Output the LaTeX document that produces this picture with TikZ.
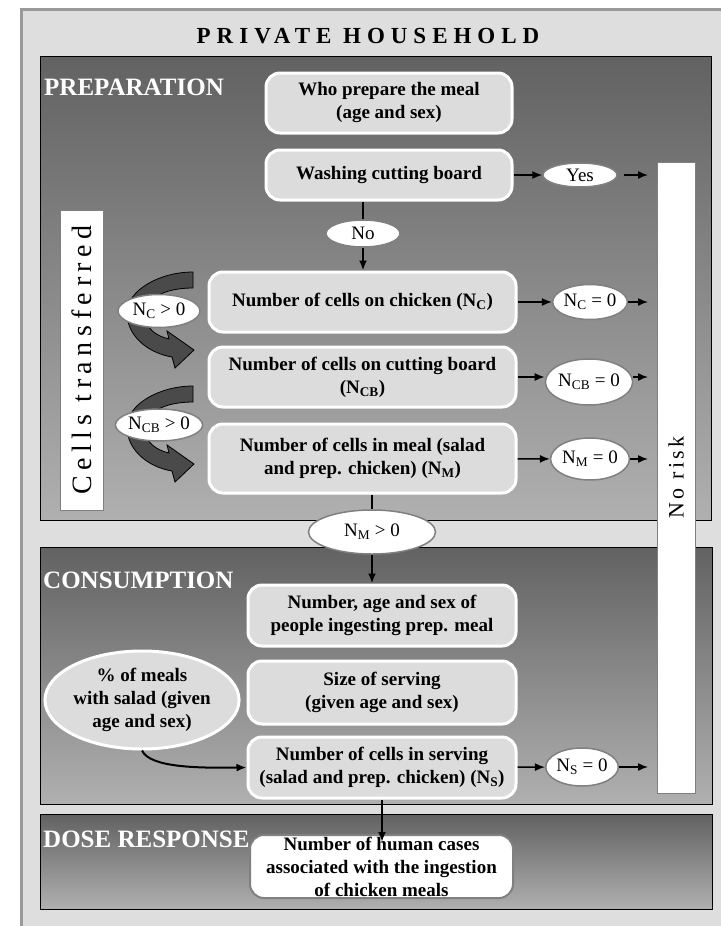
\documentclass[tikz,border=0pt]{standalone}
\usepackage{fontspec}
\setmainfont{Liberation Serif}
\usetikzlibrary{shapes.geometric,arrows.meta}
\definecolor{framegray}{HTML}{DEDEDE}
\definecolor{boxgray}{HTML}{DCDCDC}
\definecolor{paneltop}{HTML}{626262}
\definecolor{panelbot}{HTML}{B0B0B0}
\definecolor{curlgray}{HTML}{4A4A4A}
\tikzstyle{panel} = [draw=black, line width=1.2pt, top color=paneltop,
    bottom color=panelbot, anchor=north west, inner sep=0pt]
\tikzstyle{paneltitle} = [text=white, font=\bfseries\fontsize{25}{30}\selectfont,
    anchor=base west, inner sep=0pt]
\tikzstyle{stepbox} = [draw=white, line width=3pt, fill=boxgray, rounded corners=14pt,
    align=center, inner sep=0pt, font=\bfseries\fontsize{19}{23}\selectfont]
\tikzstyle{oval} = [ellipse, draw=gray, line width=1.5pt, fill=white, inner sep=0pt,
    font=\fontsize{19}{23}\selectfont]
\tikzstyle{bigoval} = [ellipse, draw=white, line width=3pt, fill=boxgray, inner sep=0pt,
    align=center, font=\bfseries\fontsize{19}{23}\selectfont]
\tikzstyle{sidebar} = [rectangle, draw=gray, line width=1pt, fill=white, inner sep=0pt,
    rotate=90]
\tikzstyle{arrow} = [-{Latex[length=10pt,width=8pt]}, line width=1.5pt]
\tikzstyle{thickline} = [line width=2.5pt]
\tikzstyle{curl} = [fill=curlgray, draw=black, line width=0.8pt]

\begin{document}
\begin{tikzpicture}[x=1pt,y=-1pt]
\useasboundingbox (0,0) rectangle (720,926);
\node[draw=gray!80, line width=3pt, fill=framegray, minimum width=730pt, minimum height=935pt,
    anchor=north west, inner sep=0pt] (frame) at (19.5,7.5) {};
\node[font=\bfseries\fontsize{23}{26}\selectfont\addfontfeature{LetterSpace=26}, anchor=base]
    (title) at (368,43) {PRIVATE HOUSEHOLD};

\node[panel, minimum width=671pt, minimum height=464pt] (prep) at (40,56) {};
\node[panel, minimum width=672pt, minimum height=257pt] (cons) at (40,547) {};
\node[panel, minimum width=672pt, minimum height=95pt] (dose) at (40,814) {};
\node[paneltitle] (preptitle) at (44,95) {PREPARATION};
\node[paneltitle] (constitle) at (43,588) {CONSUMPTION};
\node[paneltitle] (dosetitle) at (43,847) {DOSE RESPONSE};

\node[sidebar, minimum width=300pt, minimum height=43pt,
    font=\fontsize{28}{30}\selectfont\addfontfeature{LetterSpace=20}] (transf) at (81.5,360) {Cells transferred};
\node[sidebar, minimum width=631pt, minimum height=38pt,
    font=\fontsize{22}{26}\selectfont\addfontfeature{LetterSpace=15}] (norisk) at (676,477.5) {No risk};
\coordinate (riskedge) at (648,0);

\draw[curl] (193,272) -- (193,288) .. controls (165,288) and (145,298) .. (145,315)
    .. controls (145,328) and (156,336) .. (169,339) -- (167,331) -- (194,350) -- (175,368)
    -- (172,357) .. controls (148,353) and (127,336) .. (127,313)
    .. controls (127,290) and (160,272) .. (193,272) -- cycle;
\draw[curl, shift={(0,114)}] (193,272) -- (193,288) .. controls (165,288) and (145,298) .. (145,315)
    .. controls (145,328) and (156,336) .. (169,339) -- (167,331) -- (194,350) -- (175,368)
    -- (172,357) .. controls (148,353) and (127,336) .. (127,313)
    .. controls (127,290) and (160,272) .. (193,272) -- cycle;

\node[stepbox, minimum width=246pt, minimum height=60pt] (who) at (389,103) {Who prepare the meal\\(age and sex)};
\node[stepbox, minimum width=246pt, minimum height=50pt] (wash) at (389,175) {Washing cutting board};
\node[oval, minimum width=74pt, minimum height=27pt] (no) at (363,233.5) {No};
\node[oval, minimum width=74pt, minimum height=24pt] (yes) at (580,175) {Yes};
\node[stepbox, minimum width=307pt, minimum height=60pt] (chick) at (362.5,302) {Number of cells on chicken (N\textsubscript{C})};
\node[stepbox, minimum width=307pt, minimum height=60pt] (board) at (362.5,377) {Number of cells on cutting board\\(N\textsubscript{CB})};
\node[stepbox, minimum width=307pt, minimum height=69pt] (meal) at (362.5,458.5) {Number of cells in meal (salad\\and prep. chicken) (N\textsubscript{M})};
\node[oval, minimum width=74pt, minimum height=35pt] (zchick) at (590,302) {N\textsubscript{C} = 0};
\node[oval, minimum width=80pt, minimum height=46pt] (zboard) at (589,382) {N\textsubscript{CB} = 0};
\node[oval, minimum width=76pt, minimum height=42pt] (zmeal) at (590,459) {N\textsubscript{M} = 0};
\node[oval, minimum width=82pt, minimum height=33pt] (pchick) at (159,311) {N\textsubscript{C} > 0};
\node[oval, minimum width=86pt, minimum height=32pt] (pboard) at (159,425) {N\textsubscript{CB} > 0};
\node[oval, minimum width=127pt, minimum height=44pt] (pmeal) at (372,532) {N\textsubscript{M} > 0};

\node[stepbox, minimum width=268pt, minimum height=61pt] (people) at (382,615.5) {Number, age and sex of\\people ingesting prep. meal};
\node[stepbox, minimum width=268pt, minimum height=63pt] (serving) at (382,692.5) {Size of serving\\(given age and sex)};
\node[stepbox, minimum width=268pt, minimum height=61pt] (cells) at (382,767.5) {Number of cells in serving\\(salad and prep. chicken) (N\textsubscript{S})};
\node[bigoval, minimum width=175pt, minimum height=98pt] (salad) at (142,700) {\% of meals\\with salad (given\\age and sex)};
\node[oval, minimum width=72pt, minimum height=38pt] (zcells) at (582,767) {N\textsubscript{S} = 0};
\node[stepbox, fill=white, draw=gray, line width=2pt, minimum width=263pt, minimum height=63pt] (cases) at (381.5,866.5) {Number of human cases\\associated with the ingestion\\of chicken meals};

\draw[arrow] (wash) -- (yes);
\draw[arrow] ([xshift=6pt]yes.east) -- (riskedge |- yes.east);
\draw[arrow] (chick) -- (zchick);
\draw[arrow] (zchick.east) -- (riskedge |- zchick.east);
\draw[arrow] (board.east) -- (board.east -| zboard.west);
\draw[arrow] (board.east -| zboard.east) -- (riskedge |- board.east);
\draw[arrow] (meal) -- (zmeal);
\draw[arrow] (zmeal.east) -- (riskedge |- zmeal.east);
\draw[arrow] (cells) -- (zcells);
\draw[arrow] (zcells.east) -- (riskedge |- zcells.east);

\draw[thickline] (no.north |- wash.south) -- (no.north);
\draw[arrow, line width=2.5pt] (no.south) -- (no.south |- chick.north);
\draw[thickline] (pmeal.north |- meal.south) -- (pmeal.north);
\draw[arrow, line width=2pt] (pmeal.south) -- (pmeal.south |- people.north);
\draw[arrow, line width=2.5pt] (cells.south) -- ([yshift=-8pt]cells.south |- cases.north);
\draw[arrow, line width=2pt] (salad.south) .. controls (150,768) and (200,768) .. (cells.west);
\end{tikzpicture}
\end{document}
